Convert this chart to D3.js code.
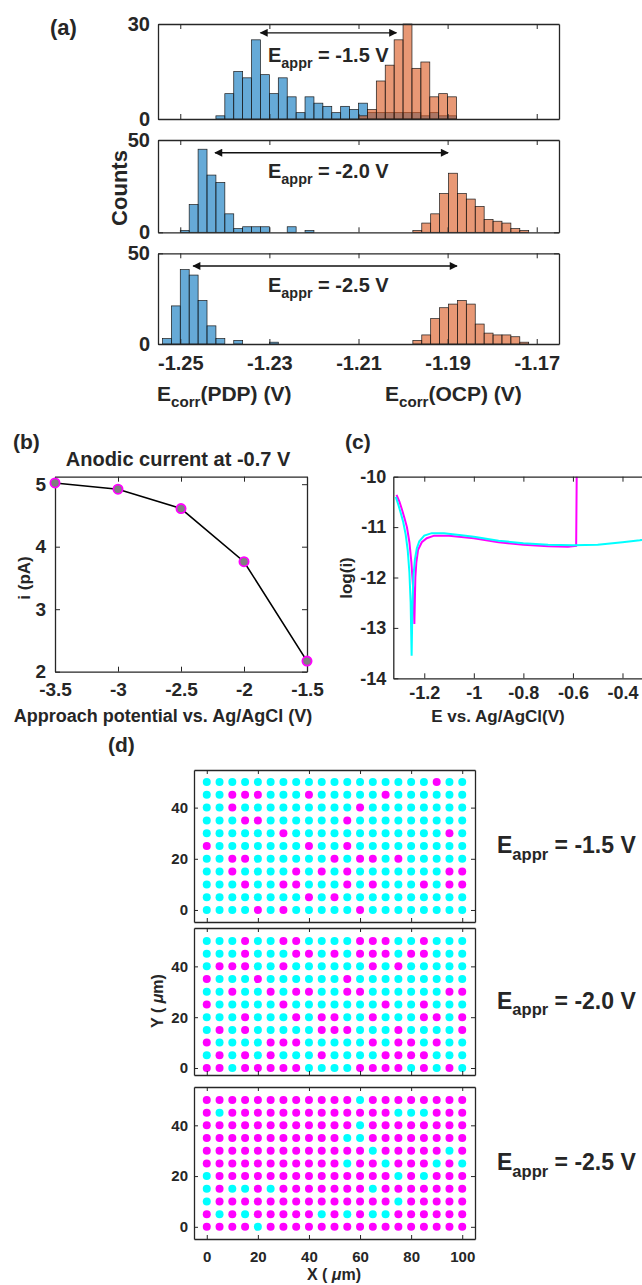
<!DOCTYPE html>
<html>
<head>
<meta charset="utf-8">
<script src="https://cdn.jsdelivr.net/npm/d3@7"></script>
<style>
  body { margin: 0; background: #fff; }
  svg { display: block; font-family: Arial, "Liberation Sans", sans-serif; font-weight: bold; }
  text { fill: #262626; }
</style>
</head>
<body>
<div id="chart"></div>
<script>
// ---------- data ----------
// (a) histograms, bin width 0.002 V, counts per bin starting at the given left edge
const binWidth = 0.002;
const apprLabels = ['-1.5 V', '-2.0 V', '-2.5 V'];
const pdpStart = [-1.242, -1.250, -1.254];
const pdpCounts = [
  [1, 8, 15, 13, 25, 14, 8, 13, 7, 2, 7, 5, 4, 2, 4, 3, 5, 2, 2, 2, 2, 2, 2, 1, 2, 1, 1],
  [1, 15, 45, 31, 27, 10, 2, 3, 3, 3, 0, 0, 3, 0, 1],
  [3, 21, 41, 38, 24, 10, 3, 0, 2, 0, 0, 0, 1]
];
const ocpStart = [-1.210, -1.1978, -1.1978];
const ocpCounts = [
  [1, 3, 12, 17, 25, 30, 16, 18, 7, 8, 7],
  [1, 5, 10, 21, 32, 21, 18, 14, 7, 6, 5, 2, 1],
  [2, 5, 14, 20, 22, 24, 22, 11, 6, 5, 5, 4, 1]
];
const histMax = [30, 50, 50];
// arrows between the two peaks (V) and their height (counts)
const arrowFrom = [-1.232, -1.2422, -1.2471];
const arrowTo = [-1.2015, -1.1899, -1.1879];
const arrowCount = [27.2, 43.1, 43];

// (b) anodic current at -0.7 V
const apprPotential = [-3.5, -3, -2.5, -2, -1.5];
const anodicCurrent = [5.02, 4.92, 4.61, 3.76, 2.17];

// (c) polarization curves [E, log(i)]
const curveMagenta = [
  [-1.312, -10.36], [-1.30, -10.5], [-1.29, -10.65], [-1.28, -10.82], [-1.27, -11.0],
  [-1.26, -11.3], [-1.252, -11.7], [-1.245, -12.2], [-1.240, -12.92], [-1.236, -12.0],
  [-1.232, -11.7], [-1.225, -11.45], [-1.21, -11.3], [-1.19, -11.22], [-1.16, -11.17],
  [-1.1, -11.17], [-1.0, -11.22], [-0.9, -11.3], [-0.8, -11.35], [-0.7, -11.38],
  [-0.62, -11.39], [-0.587, -11.37], [-0.584, -9.5]
];
const curveCyan = [
  [-1.315, -10.40], [-1.305, -10.55], [-1.295, -10.72], [-1.285, -10.9], [-1.275, -11.15],
  [-1.267, -11.45], [-1.260, -11.9], [-1.255, -12.5], [-1.251, -13.55], [-1.248, -12.6],
  [-1.244, -12.0], [-1.238, -11.65], [-1.230, -11.42], [-1.22, -11.28], [-1.20, -11.17],
  [-1.17, -11.12], [-1.12, -11.12], [-1.05, -11.16], [-1.0, -11.19], [-0.9, -11.27],
  [-0.8, -11.32], [-0.7, -11.35], [-0.6, -11.36], [-0.5, -11.35], [-0.4, -11.3],
  [-0.33, -11.26], [-0.25, -11.2]
];

// (d) site maps: rows from Y = 50 down to Y = 0, columns X = 0..100 step 5
// '1' = magenta, '0' = cyan
const gridX = d3.range(0, 101, 5);
const gridY = d3.range(50, -1, -5);
const map15 = [
  '000000000000000000100',
  '001110001000001000000',
  '001000000000100000000',
  '000110000001000000000',
  '000000100000000000010',
  '100000001001000000000',
  '001100000010110100000',
  '001000010101000000011',
  '000100110001010001011',
  '000000001010000000000',
  '000010100000100000000'
];
const map20 = [
  '000100110000111001000',
  '000100011010111011000',
  '011100100000010100000',
  '100010000001000000000',
  '001001011001100000011',
  '100000100000001001000',
  '000100010110010001101',
  '010100000111000100001',
  '100001110000010110100',
  '010101000100001111000',
  '110111110000111101010'
];
const map25 = [
  '111111111111011111111',
  '101111111111111000111',
  '111111111111011111111',
  '111111111110011111111',
  '111111111111101111101',
  '111111111110110111010',
  '011111111111111010111',
  '010010111111101111111',
  '011111111111111011111',
  '101011111010100111111',
  '111101111111111111111'
];

// ---------- setup ----------
const W = 642, H = 1285;
const svg = d3.select('#chart').append('svg').attr('width', W).attr('height', H);

const defs = svg.append('defs');
defs.append('marker').attr('id', 'head')
  .attr('viewBox', '0 0 10 10').attr('refX', 9).attr('refY', 5)
  .attr('markerUnits', 'userSpaceOnUse').attr('markerWidth', 10).attr('markerHeight', 8)
  .attr('orient', 'auto-start-reverse')
  .append('path').attr('d', 'M0,0 L10,5 L0,10 Z').attr('fill', '#111');

const noLabel = () => '';

// MATLAB-like boxed axes with inward ticks
function drawAxes(g, x, y, o) {
  const [x0, x1] = x.range(), [y0, y1] = y.range();
  const axes = [
    [d3.axisBottom(x).tickValues(o.xTicks), `translate(0,${y0})`, o.xFmt || noLabel, o.xPad || 0],
    [d3.axisTop(x).tickValues(o.xTicks), `translate(0,${y1})`, noLabel, 0],
    [d3.axisLeft(y).tickValues(o.yTicks), `translate(${x0},0)`, o.yFmt || noLabel, o.yPad || 0],
    [d3.axisRight(y).tickValues(o.yTicks), `translate(${x1},0)`, noLabel, 0]
  ];
  axes.forEach(([ax, tr, fmt, pad]) => {
    g.append('g').attr('transform', tr)
      .call(ax.tickSize(-o.tick).tickSizeOuter(0).tickPadding(pad).tickFormat(fmt))
      .attr('font-size', o.fs).attr('font-family', null)
      .style('color', '#262626')
      .call(s => s.select('.domain').attr('stroke-width', 1.3))
      .call(s => s.selectAll('.tick line').attr('stroke-width', 1));
  });
}

// text with a subscript part, e.g. E_appr = -1.5 V
function subText(t, main, sub, rest, fs) {
  t.attr('font-size', fs);
  t.append('tspan').text(main);
  t.append('tspan').attr('font-size', fs * 0.72).attr('dy', fs * 0.3).text(sub);
  t.append('tspan').attr('dy', -fs * 0.3).text(rest);
  return t;
}

function drawBars(g, x, y, start, counts, color) {
  const bins = counts.map((c, i) => ({x0: start + i * binWidth, x1: start + (i + 1) * binWidth, c}))
    .filter(d => d.c > 0);
  g.selectAll(null).data(bins).join('rect')
    .attr('x', d => x(d.x0))
    .attr('width', d => x(d.x1) - x(d.x0))
    .attr('y', d => y(d.c))
    .attr('height', d => y(0) - y(d.c))
    .attr('fill', color).attr('fill-opacity', 0.6)
    .attr('stroke', '#1a1a1a').attr('stroke-width', 0.7);
}

// ---------- (a) ----------
const xA = d3.scaleLinear().domain([-1.255, -1.165]).range([158, 559]);
const histBoxes = [[24, 119], [140, 232.3], [253.3, 344]];
const blue = 'rgb(0,114,189)', orange = 'rgb(217,83,25)';

histBoxes.forEach(([top, bottom], i) => {
  const y = d3.scaleLinear().domain([0, histMax[i]]).range([bottom, top]);
  const g = svg.append('g');
  drawBars(g, xA, y, pdpStart[i], pdpCounts[i], blue);
  drawBars(g, xA, y, ocpStart[i], ocpCounts[i], orange);
  drawAxes(g, xA, y, {
    xTicks: [-1.25, -1.23, -1.21, -1.19, -1.17], yTicks: [0, histMax[i]],
    xFmt: i === 2 ? d => d.toFixed(2) : null, yFmt: d => d,
    fs: 20, tick: 5, xPad: 12, yPad: 8
  });
  g.append('line')
    .attr('x1', xA(arrowFrom[i])).attr('x2', xA(arrowTo[i]))
    .attr('y1', y(arrowCount[i])).attr('y2', y(arrowCount[i]))
    .attr('stroke', '#111').attr('stroke-width', 1.3)
    .attr('marker-start', 'url(#head)').attr('marker-end', 'url(#head)');
  subText(g.append('text').attr('x', 268).attr('y', i === 0 ? 62 : (i === 1 ? 178 : 292)),
    'E', 'appr', ' = ' + apprLabels[i], 20);
});

svg.append('text').attr('x', 50).attr('y', 35).attr('font-size', 22).text('(a)');
svg.append('text').attr('transform', 'translate(127,188) rotate(-90)')
  .attr('text-anchor', 'middle').attr('font-size', 22).text('Counts');
subText(svg.append('text').attr('x', 157).attr('y', 401), 'E', 'corr', '(PDP) (V)', 21);
subText(svg.append('text').attr('x', 385).attr('y', 401), 'E', 'corr', '(OCP) (V)', 21);

// ---------- (b) ----------
const xB = d3.scaleLinear().domain([-3.5, -1.5]).range([55, 307]);
const yB = d3.scaleLinear().domain([2, 5.12]).range([671.7, 476.7]);
const gB = svg.append('g');
drawAxes(gB, xB, yB, {
  xTicks: apprPotential, yTicks: [2, 3, 4, 5],
  xFmt: d => String(d), yFmt: d => String(d),
  fs: 19, tick: 5, xPad: 11, yPad: 9
});
gB.append('path')
  .attr('d', d3.line().x((d, i) => xB(apprPotential[i])).y(d => yB(d))(anodicCurrent))
  .attr('fill', 'none').attr('stroke', '#000').attr('stroke-width', 1.6);
gB.selectAll('circle').data(anodicCurrent).join('circle')
  .attr('cx', (d, i) => xB(apprPotential[i])).attr('cy', d => yB(d)).attr('r', 4.6)
  .attr('fill', '#7f7f7f').attr('stroke', '#ff00ff').attr('stroke-width', 1.8);
svg.append('text').attr('x', 13).attr('y', 449).attr('font-size', 21).text('(b)');
svg.append('text').attr('x', 178).attr('y', 466).attr('text-anchor', 'middle')
  .attr('font-size', 20).text('Anodic current at -0.7 V');
svg.append('text').attr('transform', 'translate(30,578) rotate(-90)')
  .attr('text-anchor', 'middle').attr('font-size', 17).text('i (pA)');
svg.append('text').attr('x', 163).attr('y', 722).attr('text-anchor', 'middle')
  .attr('font-size', 18).text('Approach potential vs. Ag/AgCl (V)');

// ---------- (c) ----------
const xC = d3.scaleLinear().domain([-1.325, -0.09]).range([393.3, 699.3]);
const yC = d3.scaleLinear().domain([-14, -10]).range([678.3, 476.7]);
const gC = svg.append('g');
defs.append('clipPath').attr('id', 'clipC').append('rect')
  .attr('x', 393.3).attr('y', 476.7).attr('width', 306).attr('height', 201.6);
const lineC = d3.line().x(d => xC(d[0])).y(d => yC(d[1]));
gC.append('path').attr('d', lineC(curveMagenta)).attr('clip-path', 'url(#clipC)')
  .attr('fill', 'none').attr('stroke', '#ff00ff').attr('stroke-width', 2);
gC.append('path').attr('d', lineC(curveCyan)).attr('clip-path', 'url(#clipC)')
  .attr('fill', 'none').attr('stroke', '#00ffff').attr('stroke-width', 2);
drawAxes(gC, xC, yC, {
  xTicks: [-1.2, -1, -0.8, -0.6, -0.4], yTicks: [-14, -13, -12, -11, -10],
  xFmt: d => String(d), yFmt: d => String(d),
  fs: 18, tick: 5, xPad: 8, yPad: 7
});
svg.append('text').attr('x', 345).attr('y', 449).attr('font-size', 21).text('(c)');
svg.append('text').attr('transform', 'translate(352,578) rotate(-90)')
  .attr('text-anchor', 'middle').attr('font-size', 17).text('log(i)');
svg.append('text').attr('x', 498).attr('y', 722).attr('text-anchor', 'middle')
  .attr('font-size', 17).text('E vs. Ag/AgCl(V)');

// ---------- (d) ----------
const xD = d3.scaleLinear().domain([-5, 105]).range([194, 475]);
const maps = [map15, map20, map25];
const mapBoxes = [[[-4.7, 54.7], [922, 770]], [[-2.75, 55.1], [1075, 928]], [[-4.8, 55.1], [1239, 1087]]];

maps.forEach((m, i) => {
  const y = d3.scaleLinear().domain(mapBoxes[i][0]).range(mapBoxes[i][1]);
  const g = svg.append('g');
  const cells = [];
  m.forEach((row, r) => row.split('').forEach((v, c) => cells.push({x: gridX[c], y: gridY[r], v})));
  g.selectAll('circle').data(cells).join('circle')
    .attr('cx', d => xD(d.x)).attr('cy', d => y(d.y)).attr('r', 4)
    .attr('fill', d => d.v === '1' ? '#ff00ff' : '#00ffff');
  drawAxes(g, xD, y, {
    xTicks: [0, 20, 40, 60, 80, 100], yTicks: [0, 20, 40],
    xFmt: i === 2 ? d => String(d) : null, yFmt: d => String(d),
    fs: 15, tick: 4, xPad: 12, yPad: 6
  });
  const mid = (mapBoxes[i][1][0] + mapBoxes[i][1][1]) / 2;
  subText(svg.append('text').attr('x', 497).attr('y', mid + 7), 'E', 'appr', ' = ' + apprLabels[i], 23);
});

svg.append('text').attr('x', 108).attr('y', 752).attr('font-size', 21).text('(d)');
const yLab = svg.append('text').attr('transform', 'translate(163,1001) rotate(-90)')
  .attr('text-anchor', 'middle').attr('font-size', 16);
yLab.append('tspan').text('Y ( ');
yLab.append('tspan').attr('font-style', 'italic').text('μ');
yLab.append('tspan').text('m)');
const xLab = svg.append('text').attr('x', 334).attr('y', 1280)
  .attr('text-anchor', 'middle').attr('font-size', 16);
xLab.append('tspan').text('X ( ');
xLab.append('tspan').attr('font-style', 'italic').text('μ');
xLab.append('tspan').text('m)');
</script>
</body>
</html>
